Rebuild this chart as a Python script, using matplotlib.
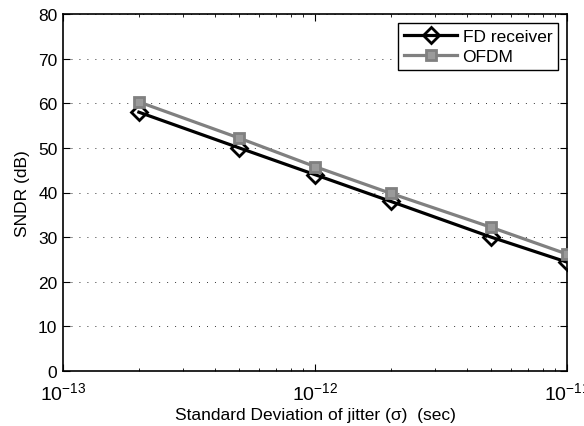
import matplotlib
matplotlib.use("Agg")
import matplotlib.pyplot as plt
from matplotlib.ticker import LogLocator, NullFormatter, MultipleLocator

plt.rcParams['font.family'] = ['Liberation Sans', 'DejaVu Sans']
plt.rcParams['mathtext.fontset'] = 'custom'
plt.rcParams['mathtext.rm'] = 'Liberation Sans'
plt.rcParams['mathtext.it'] = 'Liberation Sans:italic'
plt.rcParams['mathtext.bf'] = 'Liberation Sans:bold'

sigma = [2e-13, 5e-13, 1e-12, 2e-12, 5e-12, 1e-11]
sndr_fd = [58.0, 50.0, 44.0, 38.0, 30.0, 24.4]
sndr_ofdm = [60.3, 52.2, 45.8, 39.8, 32.2, 26.2]
series_names = ["FD receiver", "OFDM"]

FS = 12.5

fig = plt.figure(figsize=(5.84, 4.27), dpi=100)
ax = fig.add_axes([63 / 584, 55 / 427, 504 / 584, 357 / 427])

ax.plot(sigma, sndr_fd, color='black', lw=2.3, marker='D', ms=8,
        mfc='none', mec='black', mew=2.0, label=series_names[0], zorder=3)
ax.plot(sigma, sndr_ofdm, color='#808080', lw=2.3, marker='s', ms=7.5,
        mfc='#9a9a9a', mec='#808080', mew=2.0, label=series_names[1], zorder=3)

ax.set_xscale('log')
ax.set_xlim(1e-13, 1e-11)
ax.set_ylim(0, 80)
ax.yaxis.set_major_locator(MultipleLocator(10))
ax.xaxis.set_major_locator(LogLocator(base=10, numticks=5))
ax.xaxis.set_minor_locator(LogLocator(base=10, subs=range(2, 10), numticks=20))
ax.xaxis.set_minor_formatter(NullFormatter())

ax.grid(axis='y', which='major', linestyle=(0, (1, 7.2)), color='#333333', lw=0.7)
ax.tick_params(which='both', direction='in', top=True, right=True, labelsize=FS)
ax.tick_params(which='major', length=5, width=0.8)
ax.tick_params(which='minor', length=2.5, width=0.6)
ax.tick_params(axis='x', pad=7, labelsize=14)
ax.tick_params(axis='y', pad=4)
for s in ax.spines.values():
    s.set_linewidth(1.2)

ax.set_xlabel('Standard Deviation of jitter (\u03c3)  (sec)', fontsize=FS, labelpad=3)
ax.set_ylabel('SNDR (dB)', fontsize=FS, labelpad=6)

leg = ax.legend(loc='upper right', fontsize=FS, fancybox=False, framealpha=1,
                edgecolor='black', borderaxespad=0.5, handlelength=3.1,
                handletextpad=0.3, borderpad=0.35, labelspacing=0.26)
leg.get_frame().set_linewidth(1.0)

fig.savefig('out.png', dpi=100)
